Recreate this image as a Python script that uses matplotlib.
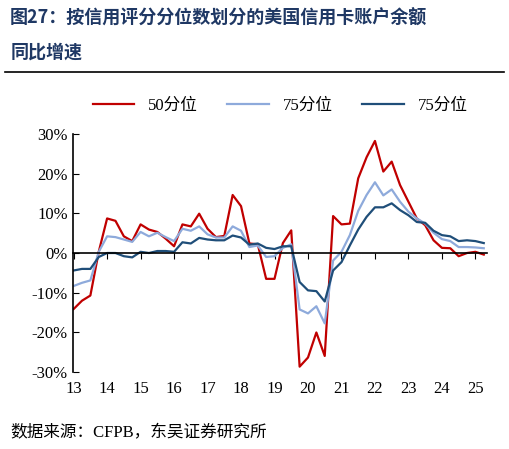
import matplotlib

matplotlib.use("Agg")
import matplotlib.pyplot as plt
from matplotlib.lines import Line2D
from matplotlib.transforms import blended_transform_factory

plt.rcParams["font.family"] = ["Liberation Serif", "Noto Sans CJK SC"]

# quarterly, 2013Q1 .. 2025Q2
p50 = [-14.1, -12.0, -10.7, 0.3, 8.7, 8.1, 4.2, 3.0, 7.2, 5.9, 5.3, 3.6, 1.7,
       7.2, 6.7, 9.9, 6.1, 4.0, 4.3, 14.6, 11.8, 2.4, 2.2, -6.5, -6.5, 2.5, 5.7,
       -28.6, -26.3, -20.0, -25.9, 9.3, 7.2, 7.4, 18.8, 24.1, 28.2, 20.5, 23.0,
       17.1, 12.9, 8.7, 7.0, 3.2, 1.3, 1.2, -0.8, 0.0, 0.3, -0.4]
p75a = [-8.3, -7.5, -6.9, 0.3, 4.2, 4.0, 3.4, 2.8, 5.3, 4.2, 5.1, 4.0, 3.0,
        6.1, 5.6, 6.7, 4.7, 3.9, 3.9, 6.7, 5.6, 1.5, 1.9, -1.0, -0.8, 1.3, 2.2,
        -14.2, -15.2, -13.4, -17.7, -1.9, 0.3, 4.5, 10.6, 14.6, 17.8, 14.5, 16.0,
        12.9, 10.4, 8.7, 7.4, 5.1, 3.5, 3.0, 1.5, 1.5, 1.4, 1.2]
p75b = [-4.4, -4.0, -4.0, -1.0, 0.0, 0.0, -0.8, -1.1, 0.3, 0.0, 0.5, 0.5, 0.3,
        2.7, 2.4, 3.8, 3.4, 3.2, 3.2, 4.4, 3.9, 2.1, 2.4, 1.3, 1.0, 1.7, 1.7,
        -7.3, -9.4, -9.6, -12.2, -4.4, -2.3, 1.9, 5.9, 9.1, 11.5, 11.5, 12.5,
        10.8, 9.5, 7.8, 7.6, 5.6, 4.5, 4.2, 3.0, 3.2, 3.0, 2.5]
years = [str(y) for y in range(13, 26)]
yticks = [-30, -20, -10, 0, 10, 20, 30]

x = list(range(len(p50)))
fig = plt.figure(figsize=(5.09, 4.49), dpi=100)
ax = fig.add_axes((0.143, 0.171, 0.814, 0.531))
l1, = ax.plot(x, p50, color="#c00000", lw=1.6, label="50分位")
l2, = ax.plot(x, p75a, color="#8eaadb", lw=1.6, label="75分位")
l3, = ax.plot(x, p75b, color="#1f4e79", lw=1.6, label="75分位")

ax.set_xlim(-0.1, len(x) - 0.6)
ax.set_ylim(-30, 30)
ax.set_yticks(yticks)
ax.set_yticklabels([f"{v}%" for v in yticks], fontsize=12)
for s in ("top", "right"):
    ax.spines[s].set_visible(False)
ax.spines["bottom"].set_position(("data", 0))
ax.spines["left"].set_linewidth(1.2)
ax.spines["bottom"].set_linewidth(1.2)
ticks = list(range(0, len(x), 4))
ax.set_xticks(ticks)
ax.set_xticklabels([])
ax.tick_params(axis="x", direction="out", length=4)
ax.tick_params(axis="y", direction="in", length=4)
tr = blended_transform_factory(ax.transData, ax.transAxes)
for t, lab in zip(ticks, years):
    ax.text(t, -0.035, lab, transform=tr, ha="center", va="top", fontsize=12)

ax.legend(handles=[l1, l2, l3], loc="lower center", bbox_to_anchor=(0.5, 1.02),
          ncol=3, frameon=False, handlelength=2.5, columnspacing=1.8,
          prop={"family": ["Liberation Serif", "Noto Sans CJK SC"], "size": 12})

navy = "#1f3864"
fig.text(0.02, 0.96, "图27：按信用评分分位数划分的美国信用卡账户余额", fontsize=13,
         fontweight="bold", family=["Noto Sans CJK SC"], va="center", color=navy)
fig.text(0.02, 0.885, "同比增速", fontsize=13, fontweight="bold",
         family=["Noto Sans CJK SC"], va="center", color=navy)
fig.add_artist(Line2D([0.01, 0.99], [0.84, 0.84], color="black", lw=1.2,
                      transform=fig.transFigure))
fig.text(0.02, 0.035, "数据来源：CFPB，东吴证券研究所", fontsize=12,
         family=["Liberation Serif", "Noto Sans CJK SC"], va="center")
fig.savefig("out.png", dpi=100)
